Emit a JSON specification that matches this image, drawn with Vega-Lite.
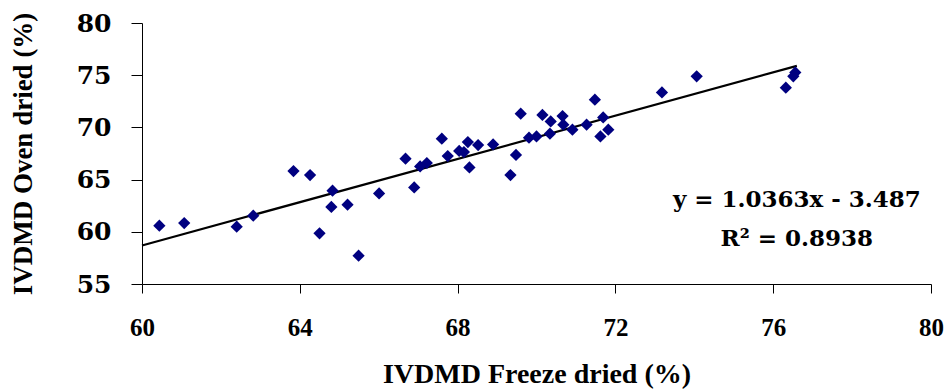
{
  "$schema": "https://vega.github.io/schema/vega-lite/v6.json",
  "autosize": "none",
  "width": 789,
  "height": 261,
  "padding": {"left": 142, "top": 23, "right": 14, "bottom": 105},
  "background": "white",
  "config": {
    "view": {"stroke": null},
    "axis": {
      "grid": false,
      "domainColor": "black",
      "tickColor": "black",
      "labelColor": "black",
      "titleColor": "black",
      "labelFont": "Liberation Serif",
      "titleFont": "Liberation Serif",
      "labelFontWeight": "bold",
      "titleFontWeight": "bold",
      "labelFlush": false,
      "labelOverlap": false
    }
  },
  "datasets": {
    "points": [
      {"fd": 60.44, "od": 60.58},
      {"fd": 61.07, "od": 60.84},
      {"fd": 62.40, "od": 60.49},
      {"fd": 62.82, "od": 61.54},
      {"fd": 63.84, "od": 65.82},
      {"fd": 64.26, "od": 65.44},
      {"fd": 64.83, "od": 63.94},
      {"fd": 64.80, "od": 62.38},
      {"fd": 65.21, "od": 62.60},
      {"fd": 64.50, "od": 59.85},
      {"fd": 65.49, "od": 57.71},
      {"fd": 66.01, "od": 63.68},
      {"fd": 66.68, "od": 67.00},
      {"fd": 66.90, "od": 64.25},
      {"fd": 67.05, "od": 66.26},
      {"fd": 67.22, "od": 66.59},
      {"fd": 67.60, "od": 68.92},
      {"fd": 67.75, "od": 67.26},
      {"fd": 68.04, "od": 67.74},
      {"fd": 68.16, "od": 67.64},
      {"fd": 68.26, "od": 68.60},
      {"fd": 68.30, "od": 66.17},
      {"fd": 68.52, "od": 68.31},
      {"fd": 68.90, "od": 68.37},
      {"fd": 69.34, "od": 65.44},
      {"fd": 69.48, "od": 67.36},
      {"fd": 69.60, "od": 71.31},
      {"fd": 69.81, "od": 69.01},
      {"fd": 70.00, "od": 69.14},
      {"fd": 70.15, "od": 71.19},
      {"fd": 70.36, "od": 70.57},
      {"fd": 70.34, "od": 69.40},
      {"fd": 70.66, "od": 71.09},
      {"fd": 70.68, "od": 70.26},
      {"fd": 70.91, "od": 69.78},
      {"fd": 71.27, "od": 70.26},
      {"fd": 71.48, "od": 72.65},
      {"fd": 71.69, "od": 70.96},
      {"fd": 71.62, "od": 69.14},
      {"fd": 71.82, "od": 69.78},
      {"fd": 73.18, "od": 73.35},
      {"fd": 74.06, "od": 74.89},
      {"fd": 76.32, "od": 73.80},
      {"fd": 76.51, "od": 74.89},
      {"fd": 76.56, "od": 75.27}
    ],
    "fit": [
      {"fd": 60, "od": 58.69},
      {"fd": 76.6, "od": 75.89}
    ],
    "labels": [
      {"fd": 76.6, "od": 63.08, "txt": "y = 1.0363x - 3.487"},
      {"fd": 76.6, "od": 59.3, "txt": "R² = 0.8938"}
    ]
  },
  "layer": [
    {
      "data": {"name": "fit"},
      "mark": {"type": "line", "color": "black", "strokeWidth": 2.2},
      "encoding": {
        "x": {"field": "fd", "type": "quantitative"},
        "y": {"field": "od", "type": "quantitative"}
      }
    },
    {
      "data": {"name": "points"},
      "mark": {"type": "point", "shape": "diamond", "filled": true, "color": "#000080", "opacity": 1, "size": 150},
      "encoding": {
        "x": {
          "field": "fd", "type": "quantitative",
          "scale": {"domain": [60, 80], "nice": false, "zero": false},
          "axis": {
            "values": [60, 64, 68, 72, 76, 80],
            "title": "IVDMD  Freeze dried (%)",
            "titleFontSize": 28,
            "titleBaseline": "middle",
            "titleY": 90,
            "labelFontSize": 25,
            "tickSize": 9,
            "labelPadding": 22,
            "labelBaseline": "top"
          }
        },
        "y": {
          "field": "od", "type": "quantitative",
          "scale": {"domain": [55, 80], "nice": false, "zero": false},
          "axis": {
            "values": [55, 60, 65, 70, 75, 80],
            "title": "IVDMD Oven dried (%)",
            "titleFontSize": 27,
            "titleAngle": -90,
            "titleBaseline": "middle",
            "titleAlign": "center",
            "titleX": -119,
            "titleY": 130.5,
            "labelFont": "DejaVu Serif",
            "labelFontSize": 25,
            "tickSize": 11,
            "labelPadding": 20
          }
        }
      }
    },
    {
      "data": {"name": "labels"},
      "mark": {"type": "text", "font": "DejaVu Serif", "fontWeight": "bold", "fontSize": 23, "align": "center", "baseline": "middle", "color": "black"},
      "encoding": {
        "x": {"field": "fd", "type": "quantitative"},
        "y": {"field": "od", "type": "quantitative"},
        "text": {"field": "txt"}
      }
    }
  ]
}
